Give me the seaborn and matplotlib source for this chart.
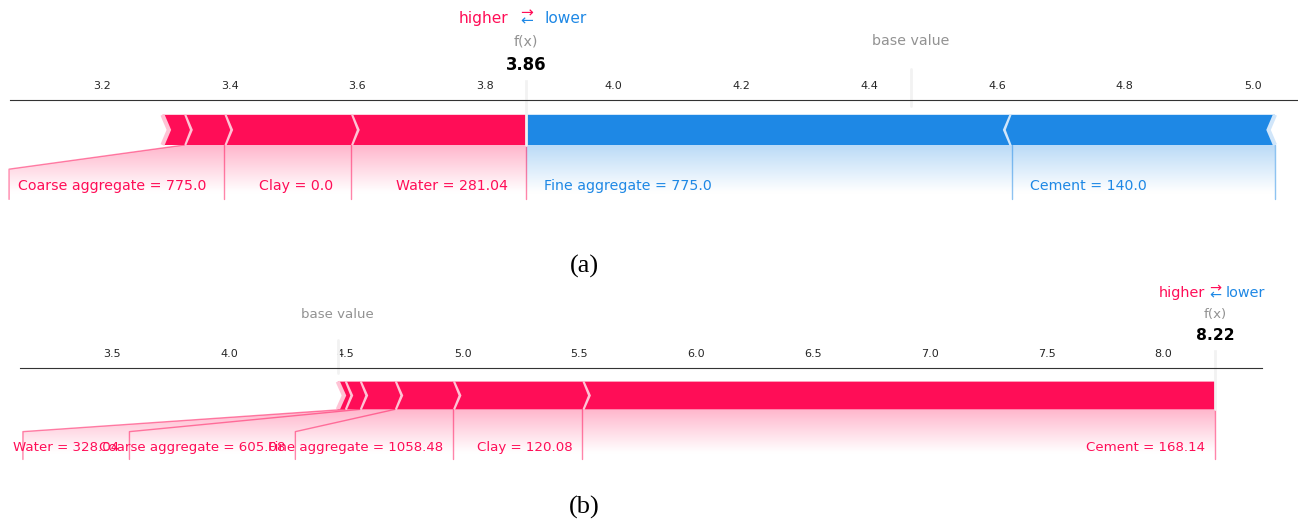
import numpy as np
import matplotlib
matplotlib.use("Agg")
import matplotlib.pyplot as plt
import seaborn as sns
from matplotlib.lines import Line2D
from matplotlib.patches import Polygon, PathPatch
from matplotlib.path import Path
from matplotlib.colors import LinearSegmentedColormap
from matplotlib.ticker import MaxNLocator

# shared expected value of the model
base_value = 4.466

# (a) sample: features pushing higher (red) and lower (blue), nearest f(x) first
a_pos_names = ["Water", "Clay", "Coarse aggregate", "Other"]
a_pos_values = ["281.04", "0.0", "775.0", ""]
a_pos_effects = [0.274, 0.198, 0.063, 0.034]
a_neg_names = ["Fine aggregate", "Cement"]
a_neg_values = ["775.0", "140.0"]
a_neg_effects = [0.759, 0.412]

# (b) sample: only positive contributions
b_pos_names = ["Cement", "Clay", "Fine aggregate", "Coarse aggregate", "Water", "Other"]
b_pos_values = ["168.14", "120.08", "1058.48", "605.08", "328.04", ""]
b_pos_effects = [2.708, 0.554, 0.249, 0.150, 0.064, 0.030]
b_neg_names, b_neg_values, b_neg_effects = [], [], []

RED, RED_LIGHT = "#FF0D57", "#FFC3D5"
BLUE, BLUE_LIGHT = "#1E88E5", "#D1E6FA"

sns.set_style("white")
plt.rcParams["font.family"] = ["DejaVu Sans"]


def draw_bars(ax, out, effects, positive, indent, width_bar=0.1):
    color, light = (RED, RED_LIGHT) if positive else (BLUE, BLUE_LIGHT)
    pre = out
    for i, eff in enumerate(effects):
        if positive:
            left, right = pre - eff, pre
            pre = left
            ind = abs(indent)
            sep = left
        else:
            left, right = pre, pre + eff
            pre = right
            ind = -abs(indent)
            sep = right
        if i == 0:
            if positive:
                pts = [[left, 0], [right, 0], [right, width_bar], [left, width_bar],
                       [left + ind, width_bar / 2]]
            else:
                pts = [[right, 0], [left, 0], [left, width_bar], [right, width_bar],
                       [right + ind, width_bar / 2]]
        else:
            pts = [[left, 0], [right, 0], [right + ind * 0.9, width_bar / 2],
                   [right, width_bar], [left, width_bar], [left + ind * 0.9, width_bar / 2]]
        ax.add_patch(Polygon(pts, closed=True, fill=True, facecolor=color, linewidth=0))
        ax.add_patch(Polygon([[sep, 0], [sep + ind, width_bar / 2], [sep, width_bar]],
                             closed=False, fill=False, edgecolor=light, lw=3))


def draw_labels(ax, out, names, values, effects, positive, total, fs,
                gap_px, shrink, pad_px, min_perc):
    color = RED if positive else BLUE
    sign = 1 if positive else -1
    r = ax.figure.canvas.get_renderer()
    to_px = lambda x: ax.transData.transform((x, 0))[0]
    to_x = lambda p: ax.transData.inverted().transform((p, 0))[0]
    if positive:
        ax.add_line(Line2D([out, out], [0, -0.18], lw=1, alpha=0.5, color=color, clip_on=False))
    start = pre = box_end = out
    for name, vs, eff in zip(names, values, effects):
        if eff / total < min_perc:
            break
        val = pre - sign * eff
        t = ax.text(to_x(to_px(start) - sign * gap_px), -0.15, f"{name} = {vs}",
                    fontsize=fs, color=color, ha="right" if positive else "left",
                    va="baseline", clip_on=False)
        bb = t.get_window_extent(renderer=r)
        if positive:
            edge = bb.x1 - shrink * bb.width - pad_px
            fits = edge > to_px(val)
        else:
            edge = bb.x0 + shrink * bb.width + pad_px
            fits = edge < to_px(val)
        if fits:
            ax.add_line(Line2D([val, val], [0, -0.18], lw=1, alpha=0.5, color=color, clip_on=False))
            start = box_end = val
        else:
            box_end = to_x(edge)
            ax.add_line(Line2D([val, box_end, box_end], [0, -0.08, -0.18], lw=1, alpha=0.5,
                               color=color, clip_on=False))
            start = box_end
        pre = val

    path = Path([[out, 0], [pre, 0], [box_end, -0.08], [box_end, -0.2], [out, -0.2], [out, 0]])
    patch = PathPatch(path, facecolor="none", edgecolor="none")
    ax.add_patch(patch)
    cm = LinearSegmentedColormap.from_list("cm", [color, "white"])
    _, Z = np.meshgrid(np.linspace(0, 10), np.linspace(-10, 10))
    im = ax.imshow(Z, interpolation="quadric", cmap=cm, vmax=0.01, alpha=0.3,
                   origin="lower", extent=[out, box_end, 0, -0.31], aspect="auto")
    im.set_clip_path(patch)


def force_plot(ax, base, pos, neg, xlim, fs, gap_px, shrink, pad_px, min_perc):
    pos_names, pos_values, pos_eff = pos
    neg_names, neg_values, neg_eff = neg
    out = base + sum(pos_eff) - sum(neg_eff)
    total = sum(pos_eff) + sum(neg_eff)
    ax.set_autoscale_on(False)
    ax.set_xlim(*xlim)
    ax.set_ylim(-0.3, 0.15)
    ax.xaxis.set_major_locator(MaxNLocator(nbins=12))
    ax.tick_params(axis="x", top=True, bottom=False, labeltop=True, labelbottom=False,
                   labelsize=8, length=3, width=0.8, direction="out")
    ax.tick_params(axis="y", left=False, labelleft=False)
    sns.despine(ax=ax, top=False, bottom=True, left=True, right=True)
    ax.spines["top"].set_color("#333333")

    indent = (xlim[1] - xlim[0]) / 200
    draw_bars(ax, out, neg_eff, False, indent)
    draw_bars(ax, out, pos_eff, True, indent)

    if neg_eff:
        draw_labels(ax, out, neg_names, neg_values, neg_eff, False, total, fs,
                    gap_px, shrink, pad_px, min_perc)
    draw_labels(ax, out, pos_names, pos_values, pos_eff, True, total, fs,
                gap_px, shrink, pad_px, min_perc)

    to_px = lambda x: ax.transData.transform((x, 0))[0]
    to_x = lambda p: ax.transData.inverted().transform((p, 0))[0]
    big = fs * 13 / 12
    ax.text(to_x(to_px(out) - gap_px), 0.405, "higher", fontsize=big, color=RED,
            ha="right", clip_on=False)
    ax.text(to_x(to_px(out) + gap_px), 0.405, "lower", fontsize=big, color=BLUE,
            ha="left", clip_on=False)
    ax.text(out, 0.4, r"$\leftarrow$", fontsize=big, color=BLUE, ha="center", clip_on=False)
    ax.text(out, 0.425, r"$\rightarrow$", fontsize=big, color=RED, ha="center", clip_on=False)

    ax.add_line(Line2D([base, base], [0.13, 0.25], lw=2, color="#F2F2F2", clip_on=False))
    t = ax.text(base, 0.33, "base value", fontsize=fs, alpha=0.5, ha="center", clip_on=False)
    t.set_bbox(dict(facecolor="white", edgecolor="white"))

    ax.add_line(Line2D([out, out], [0, 0.24], lw=2, color="#F2F2F2", clip_on=False))
    t = ax.text(out, 0.25, f"{out:.2f}", fontsize=fs * 14 / 12, fontweight="bold",
                color="black", ha="center", clip_on=False)
    t.set_bbox(dict(facecolor="white", edgecolor="white"))
    t = ax.text(out, 0.33, "f(x)", fontsize=fs, alpha=0.5, ha="center", clip_on=False)
    t.set_bbox(dict(facecolor="white", edgecolor="white"))


W, H = 1298, 522
fig = plt.figure(figsize=(W / 100, H / 100), dpi=100)

# axes placed in pixels: (a) spine at y=100, (b) spine at y=368
ax_a = fig.add_axes([10 / W, 1 - 235.6 / H, 1288 / W, 135.9 / H])
ax_b = fig.add_axes([20 / W, 1 - 492.8 / H, 1242 / W, 125.1 / H])

force_plot(ax_a, base_value,
           (a_pos_names, a_pos_values, a_pos_effects),
           (a_neg_names, a_neg_values, a_neg_effects),
           xlim=(3.0566, 5.071), fs=10.2, gap_px=18, shrink=1.0, pad_px=9, min_perc=0.025)
force_plot(ax_b, base_value,
           (b_pos_names, b_pos_values, b_pos_effects),
           (b_neg_names, b_neg_values, b_neg_effects),
           xlim=(3.1063, 8.421), fs=9.6, gap_px=10, shrink=0.74, pad_px=18, min_perc=0.012)

fig.text(584 / W, 1 - 266 / H, "(a)", family="Liberation Serif", fontsize=19,
         ha="center", va="center", color="black")
fig.text(584 / W, 1 - 507 / H, "(b)", family="Liberation Serif", fontsize=19,
         ha="center", va="center", color="black")

fig.savefig("out.png", dpi=100)
